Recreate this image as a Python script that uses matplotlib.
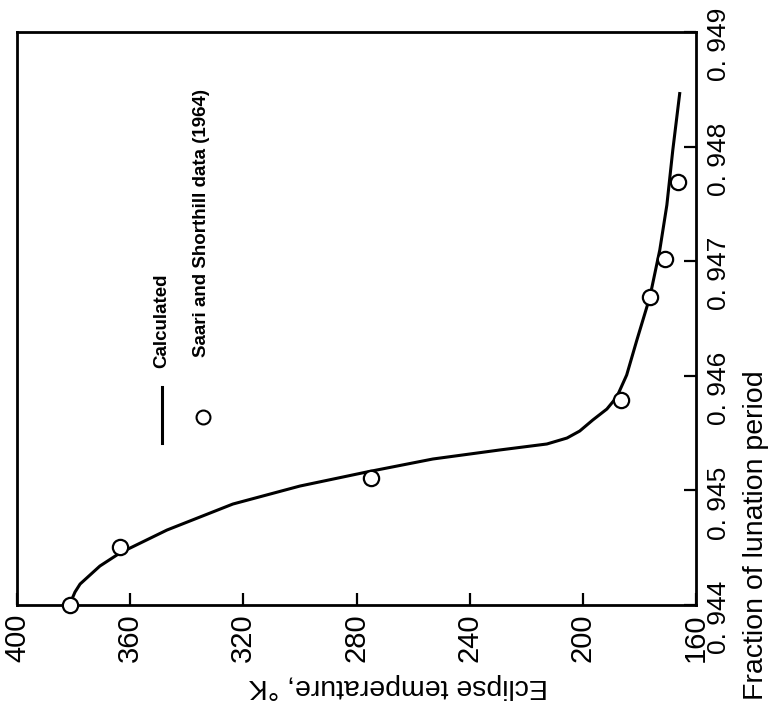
import matplotlib
matplotlib.use("Agg")
import matplotlib.pyplot as plt
from matplotlib.transforms import ScaledTranslation

# Calculated curve (temperature K, fraction of lunation period)
calc_temp = [381.3, 379.5, 377.7, 370.7, 363.6, 347.0, 323.7, 300.0, 276.3, 253.0,
             229.3, 212.7, 205.6, 201.1, 196.5, 191.5, 188.0, 184.5, 180.9, 176.3,
             172.8, 170.3, 168.2, 165.7]
calc_frac = [0.94401, 0.944113, 0.944183, 0.944340, 0.944454, 0.944654, 0.944881,
             0.945038, 0.945161, 0.945274, 0.945353, 0.945405, 0.945457, 0.945518,
             0.945614, 0.945710, 0.945815, 0.946007, 0.946312, 0.946688, 0.947098,
             0.947490, 0.947970, 0.948476]

# Saari and Shorthill data (1964)
obs_temp = [381.3, 363.6, 274.7, 186.6, 176.3, 171.0, 166.4]
obs_frac = [0.9440, 0.94451, 0.94511, 0.94579, 0.94669, 0.94702, 0.94769]

temp_ticks = [400, 360, 320, 280, 240, 200, 160]
temp_labels = ["400", "360", "320", "280", "240", "200", "160"]
frac_ticks = [0.944, 0.945, 0.946, 0.947, 0.948, 0.949]
frac_labels = ["0. 944", "0. 945", "0. 946", "0. 947", "0. 948", "0. 949"]

cond = ["Liberation Sans", "DejaVu Sans"]
plain = ["Liberation Sans", "DejaVu Sans"]

fig = plt.figure(figsize=(7.73, 7.08), dpi=100)
ax = fig.add_axes([17/773, 103/708, 679/773, 573/708])

ax.plot(calc_temp, calc_frac, color="black", lw=2.2, solid_capstyle="butt")
ax.plot(obs_temp, obs_frac, ls="none", marker="o", ms=11, mfc="white",
        mec="black", mew=1.6, clip_on=False, zorder=3)

ax.set_xlim(400, 160)
ax.set_ylim(0.944, 0.949)
for s in ax.spines.values():
    s.set_linewidth(2.0)

ax.set_xticks(temp_ticks)
ax.set_xticklabels(temp_labels, rotation=90, family=cond, fontsize=21,
                   fontstretch="condensed")
ax.set_yticks(frac_ticks)
ax.set_yticklabels(frac_labels, rotation=90, family=cond, fontsize=19,
                   va="center", fontstretch="condensed")
ax.yaxis.tick_right()
ax.tick_params(axis="both", direction="in", length=8.5, width=1.6, pad=6)
ax.tick_params(axis="y", left=False, right=True, pad=8)
ax.tick_params(axis="x", top=False, bottom=True)

shift = ScaledTranslation(0, -9 / 72, fig.dpi_scale_trans)
for lab in ax.get_yticklabels():
    lab.set_transform(lab.get_transform() + shift)

ax.set_xlabel("Eclipse temperature, °K", rotation=180, family=cond, fontsize=20.5,
              fontstretch="condensed")
ax.xaxis.set_label_coords((398 - 17) / 679, (605 - 686) / 573)
ax.xaxis.label.set_va("center")
ax.yaxis.set_label_position("right")
ax.set_ylabel("Fraction of lunation period", rotation=90, family=cond,
              fontsize=20.5, fontstretch="condensed")
ax.yaxis.set_label_coords((756 - 17) / 679, (605 - 535) / 573)
ax.yaxis.label.set_va("center")
ax.yaxis.label.set_ha("center")

# legend (drawn manually, rotated)
ax.plot([(162 - 17) / 679] * 2, [(605 - 443) / 573, (605 - 387) / 573],
        transform=ax.transAxes, color="black", lw=2.2)
ax.plot([(203 - 17) / 679], [(605 - 417) / 573], transform=ax.transAxes,
        ls="none", marker="o", ms=10, mfc="white", mec="black", mew=1.5)
ax.text((162 - 17) / 679, (605 - 368) / 573, "Calculated", rotation=90,
        transform=ax.transAxes, ha="center", va="bottom", family=plain,
        fontsize=13.5, fontweight="bold")
ax.text((202 - 17) / 679, (605 - 357) / 573, "Saari and Shorthill data (1964)",
        rotation=90, transform=ax.transAxes, ha="center", va="bottom",
        family=plain, fontsize=13.5, fontweight="bold")

fig.savefig("out.png", dpi=100)
